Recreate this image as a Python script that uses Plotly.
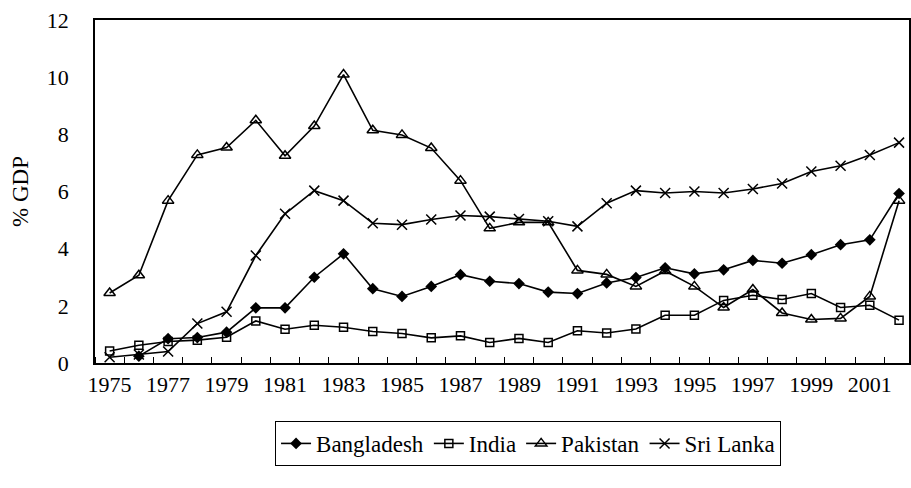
import plotly.graph_objects as go

years = list(range(1975, 2003))
bangladesh = [None, 0.24, 0.85, 0.89, 1.08, 1.93, 1.93, 3.0, 3.82, 2.6, 2.33, 2.68, 3.09,
              2.86, 2.78, 2.48, 2.43, 2.8, 2.99, 3.33, 3.12, 3.26, 3.59, 3.49, 3.79, 4.14, 4.31, 5.93]
india = [0.42, 0.62, 0.75, 0.8, 0.9, 1.47, 1.18, 1.32, 1.25, 1.1, 1.03, 0.88, 0.95,
         0.72, 0.86, 0.72, 1.13, 1.05, 1.19, 1.67, 1.67, 2.19, 2.37, 2.22, 2.43, 1.94, 2.02, 1.5]
pakistan = [2.45, 3.07, 5.68, 7.28, 7.54, 8.49, 7.25, 8.29, 10.09, 8.14, 7.98, 7.52, 6.38,
            4.71, 4.92, 4.92, 3.24, 3.1, 2.68, 3.22, 2.68, 1.94, 2.57, 1.75, 1.52, 1.56, 2.33, 5.68]
srilanka = [0.2, 0.3, 0.4, 1.38, 1.79, 3.76, 5.22, 6.03, 5.68, 4.89, 4.84, 5.02, 5.16,
            5.12, 5.04, 4.96, 4.78, 5.59, 6.03, 5.95, 6.0, 5.95, 6.09, 6.28, 6.7, 6.9, 7.28, 7.71]
label_years = list(range(1975, 2002, 2))
yticks = [0, 2, 4, 6, 8, 10, 12]

series = [
    ("Bangladesh", bangladesh, dict(symbol="diamond", size=9, color="black")),
    ("India", india, dict(symbol="square-open", size=8, color="black", line=dict(width=1.5, color="black"))),
    ("Pakistan", pakistan, dict(symbol="triangle-up-open", size=10, color="black", line=dict(width=1.5, color="black"))),
    ("Sri Lanka", srilanka, dict(symbol="x-thin-open", size=10, color="black", line=dict(width=1.5, color="black"))),
]

fig = go.Figure()
for name, vals, mk in series:
    fig.add_trace(go.Scatter(x=years, y=vals, name=name, mode="lines+markers",
                             line=dict(color="black", width=1.6), marker=mk))

serif = "'Liberation Serif', 'Times New Roman', serif"
tickfont = dict(family=serif, size=22, color="black")
legfont = dict(family=serif, size=23, color="black")
fig.update_layout(
    width=911, height=488,
    margin=dict(l=95, r=0, t=20, b=125),
    paper_bgcolor="white", plot_bgcolor="white",
    font=tickfont,
    showlegend=True,
    legend=dict(orientation="h", x=0.532, xanchor="center", y=-0.169, yanchor="top",
                bordercolor="black", borderwidth=1, font=legfont, itemwidth=30,
                traceorder="normal", tracegroupgap=0),
)
fig.update_xaxes(
    range=[1974.5, 2002.34], tickmode="array", tickvals=label_years,
    ticktext=[str(y) for y in label_years], ticks="", showgrid=False, zeroline=False,
    showline=True, linecolor="black", linewidth=1.5, mirror=True,
    minor=dict(tick0=1974.5, dtick=1, ticks="inside", ticklen=6, tickcolor="black", tickwidth=1, showgrid=False),
    tickfont=tickfont, ticklabelstandoff=1,
)
fig.update_yaxes(
    range=[0, 12], tickmode="array", tickvals=yticks, ticks="", showgrid=False, zeroline=False,
    showline=True, linecolor="black", linewidth=1.5, mirror=True,
    title=dict(text="% GDP", font=dict(family=serif, size=23, color="black"), standoff=12),
    tickfont=tickfont, ticklabelstandoff=20,
)
fig.write_html("out.html", config={"displayModeBar": False},
               post_script="document.body.style.margin='0';document.body.style.overflow='hidden';")
